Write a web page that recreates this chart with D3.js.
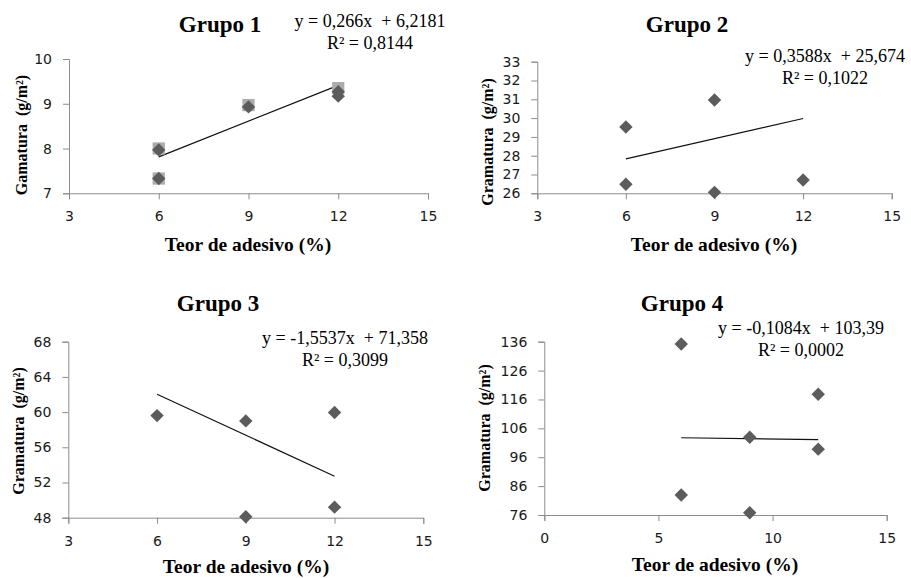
<!DOCTYPE html>
<html>
<head>
<meta charset="utf-8">
<script src="https://d3js.org/d3.v7.min.js"></script>
<style>
body { margin: 0; padding: 0; background: white; }
svg { display: block; }
</style>
</head>
<body>
<svg id="chart" width="911" height="578"></svg>
<script>

// ---- data ----
var g1SquareX = [6, 6, 9, 12];
var g1SquareY = [8.0, 7.33, 8.97, 9.35];
var g1DiamondX = [6, 6, 9, 12, 12];
var g1DiamondY = [7.97, 7.33, 8.93, 9.27, 9.17];

var g2X = [6, 6, 9, 9, 12];
var g2Y = [29.53, 26.48, 30.96, 26.05, 26.71];

var g3X = [6, 9, 9, 12, 12];
var g3Y = [59.6, 59.0, 48.1, 59.95, 49.2];

var g4X = [6, 6, 9, 9, 12, 12];
var g4Y = [135.2, 82.9, 102.9, 76.8, 117.8, 98.8];

var titles = ["Grupo 1", "Grupo 2", "Grupo 3", "Grupo 4"];
var slopes = [0.266, 0.3588, -1.5537, -0.1084];
var intercepts = [6.2181, 25.674, 71.358, 103.39];
var eqLabels = ["y = 0,266x  + 6,2181", "y = 0,3588x  + 25,674", "y = -1,5537x  + 71,358", "y = -0,1084x  + 103,39"];
var r2Labels = ["R² = 0,8144", "R² = 0,1022", "R² = 0,3099", "R² = 0,0002"];
var yLabels = ["Gamatura  (g/m²)", "Gramatura  (g/m²)", "Gramatura  (g/m²)", "Gramatura  (g/m²)"];
var xLabel = "Teor de adesivo (%)";

var xTicks123 = [3, 6, 9, 12, 15];
var xTicks4 = [0, 5, 10, 15];
var yTicks1 = [7, 8, 9, 10];
var yTicks2 = [26, 27, 28, 29, 30, 31, 32, 33];
var yTicks3 = [48, 52, 56, 60, 64, 68];
var yTicks4 = [76, 86, 96, 106, 116, 126, 136];

// ---- layout of each panel ----
var panels = [
  {left: 69, right: 428, top: 59, bottom: 193.3, xDom: [3, 15], yDom: [7, 10], xTicks: xTicks123, yTicks: yTicks1,
   titleX: 220, titleY: 32, eqX: 370, eqY: 27, xlabX: 248, xlabY: 251, ylabX: 27, ylabY: 135,
   series: [{x: g1SquareX, y: g1SquareY, shape: "square"}, {x: g1DiamondX, y: g1DiamondY, shape: "diamond"}]},
  {left: 537.3, right: 891.7, top: 61.7, bottom: 193.3, xDom: [3, 15], yDom: [26, 33], xTicks: xTicks123, yTicks: yTicks2,
   titleX: 687, titleY: 32, eqX: 825, eqY: 62, xlabX: 714, xlabY: 251, ylabX: 493, ylabY: 142,
   series: [{x: g2X, y: g2Y, shape: "diamond"}]},
  {left: 68.3, right: 423.3, top: 341.7, bottom: 517.7, xDom: [3, 15], yDom: [48, 68], xTicks: xTicks123, yTicks: yTicks3,
   titleX: 218, titleY: 311, eqX: 345, eqY: 344, xlabX: 246, xlabY: 573, ylabX: 24, ylabY: 431,
   series: [{x: g3X, y: g3Y, shape: "diamond"}]},
  {left: 544.3, right: 886.7, top: 341.7, bottom: 515, xDom: [0, 15], yDom: [76, 136], xTicks: xTicks4, yTicks: yTicks4,
   titleX: 682, titleY: 311, eqX: 801, eqY: 334, xlabX: 715, xlabY: 571, ylabX: 490, ylabY: 428,
   series: [{x: g4X, y: g4Y, shape: "diamond"}]}
];

var svg = d3.select("#chart");
var axisColor = "#8c8c8c";

panels.forEach(function(p, i) {
  var x = d3.scaleLinear().domain(p.xDom).range([p.left, p.right]);
  var y = d3.scaleLinear().domain(p.yDom).range([p.bottom, p.top]);
  var g = svg.append("g");

  // axes
  var gx = g.append("g")
    .attr("transform", "translate(0," + p.bottom + ")")
    .call(d3.axisBottom(x).tickValues(p.xTicks).tickSizeOuter(0).tickSize(6).tickPadding(12).tickFormat(d3.format("d")));
  var gy = g.append("g")
    .attr("transform", "translate(" + p.left + ",0)")
    .call(d3.axisLeft(y).tickValues(p.yTicks).tickSizeOuter(0).tickSize(6).tickPadding(11).tickFormat(d3.format("d")));
  [gx, gy].forEach(function(a) {
    a.select(".domain").attr("stroke", axisColor);
    a.selectAll(".tick line").attr("stroke", axisColor);
    a.selectAll(".tick text")
      .attr("fill", "#1a1a1a")
      .style("font-family", "'DejaVu Sans', Verdana, sans-serif")
      .style("font-size", "14px");
  });

  // trendline
  var tx = [6, 12];
  g.append("line")
    .attr("x1", x(tx[0])).attr("y1", y(slopes[i] * tx[0] + intercepts[i]))
    .attr("x2", x(tx[1])).attr("y2", y(slopes[i] * tx[1] + intercepts[i]))
    .attr("stroke", "#111").attr("stroke-width", 1.2);

  // points
  p.series.forEach(function(s) {
    var pts = s.x.map(function(v, k) { return [v, s.y[k]]; });
    var sym = s.shape == "square" ? d3.symbol().type(d3.symbolSquare).size(150)
                                  : d3.symbol().type(d3.symbolDiamond2).size(115);
    g.append("g").selectAll("path")
      .data(pts)
      .enter()
      .append("path")
      .attr("d", sym)
      .attr("transform", function(d) { return "translate(" + x(d[0]) + "," + y(d[1]) + ")"; })
      .attr("fill", s.shape == "square" ? "#acacac" : "#5c5c5c");
  });

  // texts
  g.append("text")
    .attr("x", p.titleX).attr("y", p.titleY)
    .attr("text-anchor", "middle")
    .style("font-family", "'Liberation Serif', 'Times New Roman', serif")
    .style("font-weight", "bold").style("font-size", "23px")
    .text(titles[i]);

  g.append("text")
    .attr("x", p.eqX).attr("y", p.eqY)
    .attr("text-anchor", "middle")
    .style("white-space", "pre")
    .style("font-family", "'Liberation Serif', 'Times New Roman', serif")
    .style("font-size", "18px")
    .text(eqLabels[i]);
  g.append("text")
    .attr("x", p.eqX).attr("y", p.eqY + 22)
    .attr("text-anchor", "middle")
    .style("font-family", "'Liberation Serif', 'Times New Roman', serif")
    .style("font-size", "18px")
    .text(r2Labels[i]);

  g.append("text")
    .attr("x", p.xlabX).attr("y", p.xlabY)
    .attr("text-anchor", "middle")
    .style("font-family", "'Liberation Serif', 'Times New Roman', serif")
    .style("font-weight", "bold").style("font-size", "19.5px")
    .text(xLabel);

  g.append("text")
    .attr("transform", "translate(" + p.ylabX + "," + p.ylabY + ") rotate(-90)")
    .attr("text-anchor", "middle")
    .style("white-space", "pre")
    .style("font-family", "'Liberation Serif', 'Times New Roman', serif")
    .style("font-weight", "bold").style("font-size", "16px")
    .text(yLabels[i]);
});

</script>
</body>
</html>
